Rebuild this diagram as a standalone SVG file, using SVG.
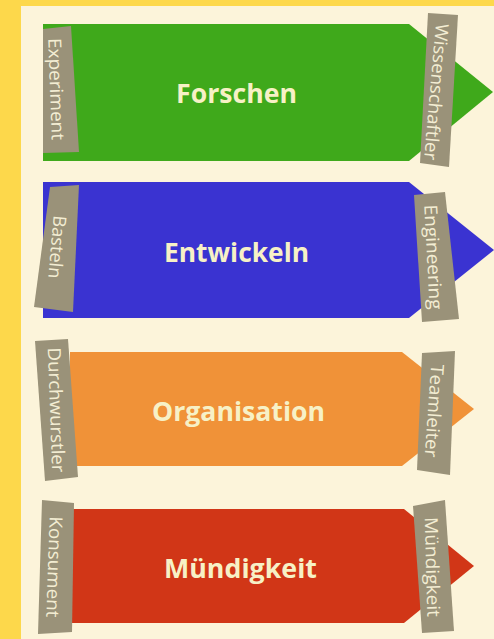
<svg xmlns="http://www.w3.org/2000/svg" width="494" height="639" viewBox="0 0 494 639">
  <style>
    .title { font-family: "Open Sans", "Liberation Sans", sans-serif; font-weight: bold; font-size: 27px; fill: #F7F1C6; text-anchor: middle; }
    .lbl { fill: #9A9279; }
    .lt { font-family: "Open Sans", "Liberation Sans", sans-serif; font-size: 18px; fill: #F3EDD3; text-anchor: middle; dominant-baseline: central; }
  </style>
  <rect x="0" y="0" width="494" height="639" fill="#FDD84B"/>
  <rect x="21" y="6" width="473" height="633" fill="#FCF4DA"/>
  <g id="connectors"></g>

  <g id="forschen">
    <polygon points="43,24 409,24 493,92 409,161 43,161" fill="#3FA91B"/>
    <text class="title" x="236.5" y="103" textLength="121" lengthAdjust="spacingAndGlyphs">Forschen</text>
    <polygon class="lbl" points="43,29 71,26 79,152 43,153"/>
    <text class="lt" transform="translate(57,89) rotate(88)" textLength="102" lengthAdjust="spacingAndGlyphs">Experiment</text>
    <polygon class="lbl" points="428,13 458,15 449,167 420,163"/>
    <text class="lt" transform="translate(437,92) rotate(95)" textLength="137" lengthAdjust="spacingAndGlyphs">Wissenschaftler</text>
  </g>

  <g id="entwickeln">
    <polygon points="43,182 409,182 494,250 409,318 43,318" fill="#3A33D1"/>
    <text class="title" x="236.5" y="262" textLength="145" lengthAdjust="spacingAndGlyphs">Entwickeln</text>
    <polygon class="lbl" points="50,187 79,185 73,312 34,307"/>
    <text class="lt" transform="translate(58,247) rotate(95)" textLength="63" lengthAdjust="spacingAndGlyphs">Basteln</text>
    <polygon class="lbl" points="414,195 445,192 459,319 422,322"/>
    <text class="lt" transform="translate(434,257) rotate(87)" textLength="105" lengthAdjust="spacingAndGlyphs">Engineering</text>
  </g>

  <g id="organisation">
    <polygon points="70,352 402,352 474,409 402,466 70,466" fill="#F09238"/>
    <text class="title" x="238.5" y="421" textLength="173" lengthAdjust="spacingAndGlyphs">Organisation</text>
    <polygon class="lbl" points="35,341 68,339 78,477 45,481"/>
    <text class="lt" transform="translate(57,410) rotate(88)" textLength="125" lengthAdjust="spacingAndGlyphs">Durchwurstler</text>
    <polygon class="lbl" points="422,353 455,351 450,475 417,470"/>
    <text class="lt" transform="translate(435,411) rotate(94)" textLength="93" lengthAdjust="spacingAndGlyphs">Teamleiter</text>
  </g>

  <g id="muendigkeit">
    <polygon points="72,509 404,509 474,566 404,623 72,623" fill="#D13617"/>
    <text class="title" x="240.5" y="578" textLength="153" lengthAdjust="spacingAndGlyphs">Mündigkeit</text>
    <polygon class="lbl" points="42,500 74,503 72,632 38,634"/>
    <text class="lt" transform="translate(55,567) rotate(92)" textLength="101" lengthAdjust="spacingAndGlyphs">Konsument</text>
    <polygon class="lbl" points="413,506 445,500 454,631 422,633"/>
    <text class="lt" transform="translate(433,567) rotate(88.5)" textLength="100" lengthAdjust="spacingAndGlyphs">Mündigkeit</text>
  </g>
</svg>
